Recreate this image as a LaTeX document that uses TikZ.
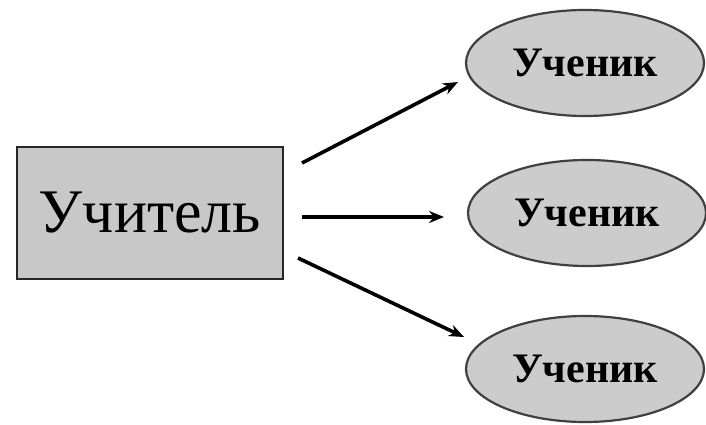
\documentclass[tikz,border=0pt]{standalone}
\usepackage{fontspec}
\setmainfont{Liberation Serif}
\usetikzlibrary{shapes.geometric,arrows.meta}
\definecolor{boxgray}{RGB}{200,200,200}
\definecolor{ovalgray}{RGB}{204,204,204}
\tikzset{
	teacherbox/.style={draw=black!85,line width=2.6pt,fill=boxgray,minimum width=266pt,minimum height=132pt,inner sep=0pt,font=\fontsize{62}{62}\selectfont},
	pupil/.style={ellipse,draw=black!75,line width=2.2pt,fill=ovalgray,minimum width=238pt,minimum height=106pt,inner sep=0pt,font=\bfseries\fontsize{42}{42}\selectfont},
	arr/.style={-{Stealth[length=15pt,width=12pt]},line width=3.6pt}
}
\begin{document}
\begin{tikzpicture}[x=1pt,y=1pt]
			\useasboundingbox (0,0) rectangle (706,424);
			\node[teacherbox] (teacher) at (150,211) {Учитель};
			\node[pupil] (p1) at (585,361) {Ученик};
			\node[pupil] (p2) at (587,211) {Ученик};
			\node[pupil] (p3) at (585,55) {Ученик};
			\coordinate (s1) at (302,261);
			\coordinate (e1) at (458,342);
			\coordinate (s2) at (302,207);
			\coordinate (e2) at (444,207);
			\coordinate (s3) at (298,166);
			\coordinate (e3) at (464,87);
			\draw[arr](s1)--(e1);
			\draw[arr](s2)--(e2);
			\draw[arr](s3)--(e3);
			\end{tikzpicture}
\end{document}
